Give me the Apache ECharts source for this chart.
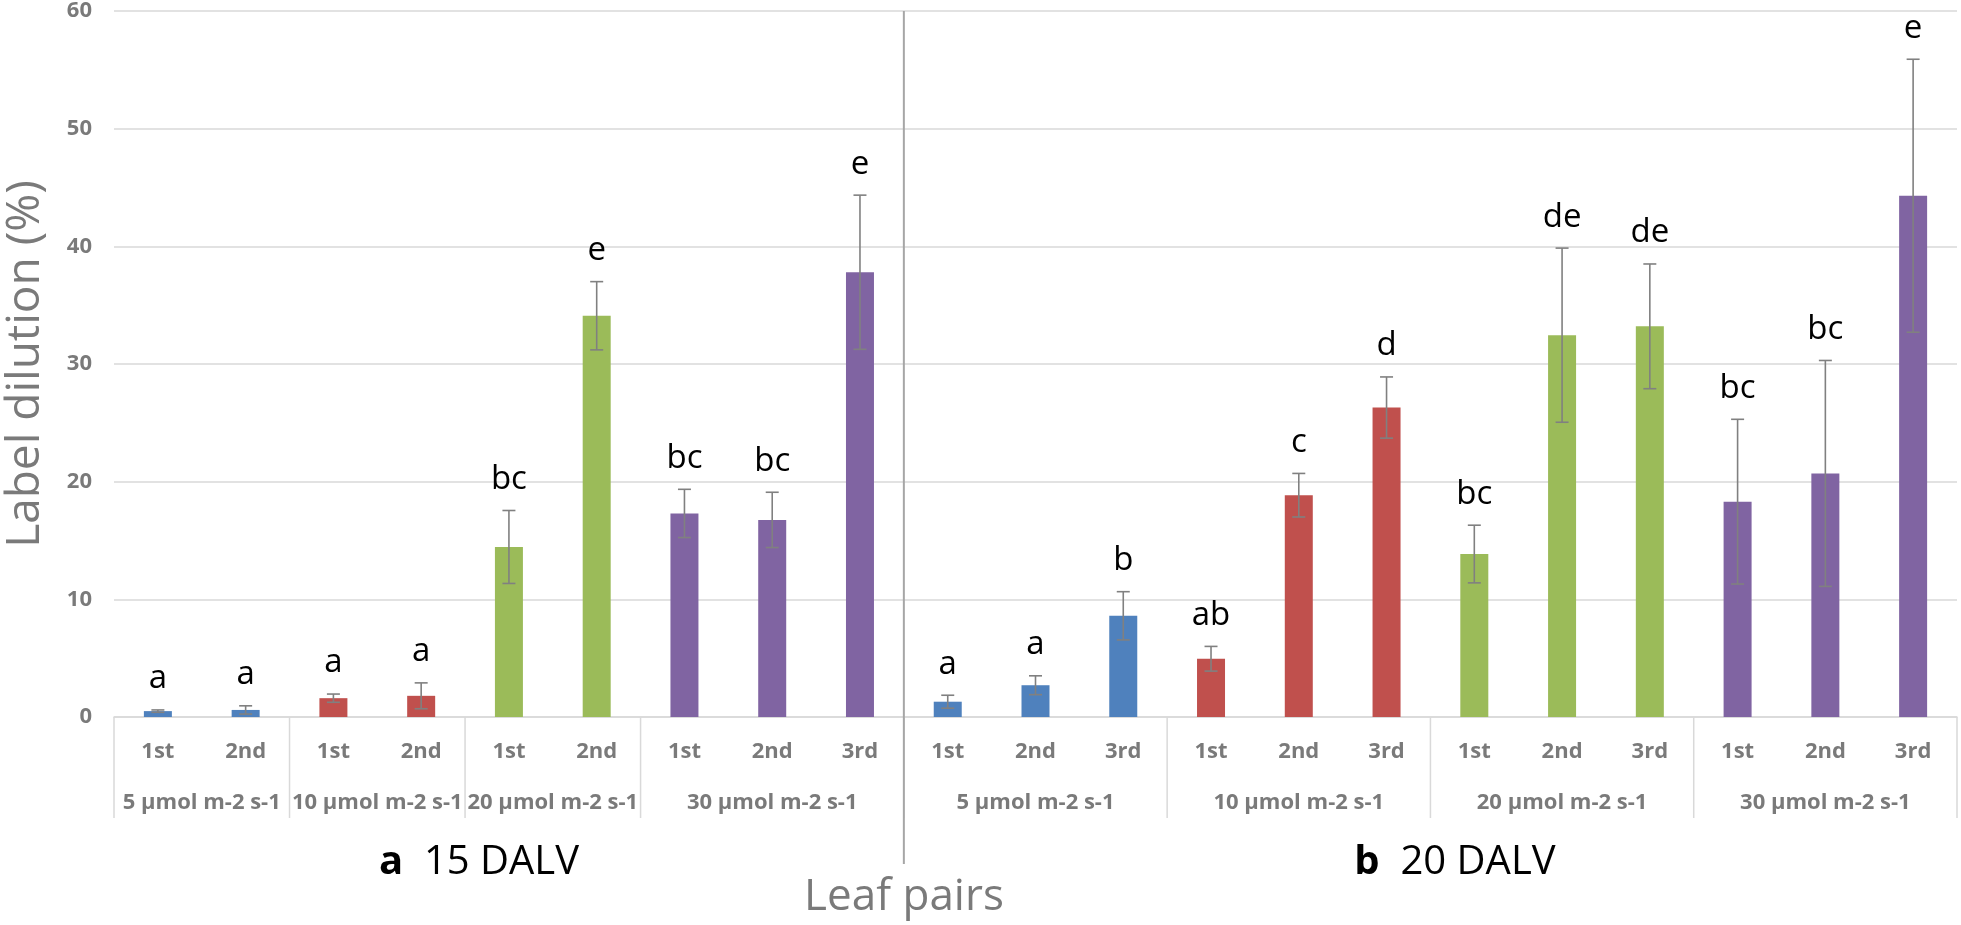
<!DOCTYPE html>
<html>
<head>
<meta charset="utf-8">
<script src="https://cdn.jsdelivr.net/npm/echarts@6/dist/echarts.min.js"></script>
<style>
html,body{margin:0;padding:0;background:#fff;}
#chart{width:1961px;height:925px;}
</style>
</head>
<body>
<div id="chart"></div>
<script>
// ---- data ----
const leafPairs = ['1st','2nd','1st','2nd','1st','2nd','1st','2nd','3rd',
                   '1st','2nd','3rd','1st','2nd','3rd','1st','2nd','3rd','1st','2nd','3rd'];
const groupNames = ['5 µmol m-2 s-1','10 µmol m-2 s-1','20 µmol m-2 s-1','30 µmol m-2 s-1',
                    '5 µmol m-2 s-1','10 µmol m-2 s-1','20 µmol m-2 s-1','30 µmol m-2 s-1'];
const groupSizes = [2,2,2,3, 3,3,3,3];
const groupLevel = [0,1,2,3, 0,1,2,3];
const means  = [0.5,0.6,1.6,1.8,14.45,34.1,17.3,16.75,37.8,
                1.3,2.7,8.6,4.95,18.85,26.3,13.85,32.45,33.2,18.3,20.7,44.3];
const errors = [0.1,0.35,0.35,1.1,3.1,2.9,2.05,2.35,6.55,
                0.55,0.8,2.05,1.05,1.85,2.6,2.45,7.4,5.3,7.0,9.6,11.6];
const letters = ['a','a','a','a','bc','e','bc','bc','e',
                 'a','a','b','ab','c','d','bc','de','de','bc','bc','e'];
const panelTags = ['a','b'];
const panelTitles = ['15 DALV','20 DALV'];
const panelGroupCount = 4;
const yMin = 0, yMax = 60, yStep = 10;
const yTitle = 'Label dilution (%)';
const xTitle = 'Leaf pairs';
const levelColors = ['#4F81BD','#C0504D','#9BBB59','#8064A2'];

// ---- derived ----
const catGroup = [];
const groupRanges = [];
let start = 0;
groupSizes.forEach((n, g) => {
  groupRanges.push([start, g, start + n - 1]);
  for (let k = 0; k < n; k++) catGroup.push(g);
  start += n;
});
const barData = means.map((v, i) => ({
  value: v,
  itemStyle: { color: levelColors[groupLevel[catGroup[i]]] }
}));
const errData = means.map((v, i) => [i, v, errors[i]]);

const FONT = '"Open Sans", "DejaVu Sans", sans-serif';
const chart = echarts.init(document.getElementById('chart'), null, { renderer: 'canvas' });

function panelTitle(k, x) {
  return { type: 'text', x: x, y: 863,
    style: { text: '{t|' + panelTags[k] + '}{n|  ' + panelTitles[k] + '}', align: 'center', verticalAlign: 'middle',
             rich: { t: { font: 'bold 40px ' + FONT, fill: '#000' }, n: { font: '40px ' + FONT, fill: '#000' } } } };
}

chart.setOption({
  animation: false,
  backgroundColor: '#ffffff',
  grid: { left: 114, right: 4, top: 11, bottom: 208, containLabel: false },
  xAxis: {
    type: 'category',
    data: leafPairs,
    axisLine: { show: true, lineStyle: { color: '#d9d9d9', width: 1.5 } },
    axisTick: { show: false },
    axisLabel: { interval: 0, margin: 24, color: '#7a7a7a', fontFamily: FONT, fontWeight: 'bold', fontSize: 22 },
    splitLine: { show: false }
  },
  yAxis: {
    type: 'value',
    min: yMin, max: yMax, interval: yStep,
    axisLine: { show: false },
    axisTick: { show: false },
    axisLabel: { margin: 22, color: '#7a7a7a', fontFamily: FONT, fontWeight: 'bold', fontSize: 22 },
    splitLine: { lineStyle: { color: '#d9d9d9', width: 1.5 } }
  },
  series: [
    {
      type: 'bar',
      data: barData,
      barWidth: 28,
      silent: true
    },
    {
      type: 'custom',
      clip: false,
      silent: true,
      data: errData,
      encode: { x: 0, y: 1 },
      z: 5,
      renderItem: function (params, api) {
        const i = api.value(0), m = api.value(1), e = api.value(2);
        const top = api.coord([i, m + e]);
        const bot = api.coord([i, Math.max(m - e, 0)]);
        const x = top[0], cap = 6.5;
        const ls = { stroke: '#808080', lineWidth: 1.6 };
        return {
          type: 'group',
          children: [
            { type: 'line', shape: { x1: x, y1: top[1], x2: x, y2: bot[1] }, style: ls },
            { type: 'line', shape: { x1: x - cap, y1: top[1], x2: x + cap, y2: top[1] }, style: ls },
            { type: 'line', shape: { x1: x - cap, y1: bot[1], x2: x + cap, y2: bot[1] }, style: ls },
            { type: 'text', x: x, y: top[1] - 31,
              style: { text: letters[params.dataIndex], align: 'center', verticalAlign: 'middle',
                       font: '33px ' + FONT, fill: '#000000' } }
          ]
        };
      }
    },
    {
      type: 'custom',
      clip: false,
      silent: true,
      data: groupRanges,
      encode: { x: 0 },
      renderItem: function (params, api) {
        const s = api.value(0), g = api.value(1), e = api.value(2);
        const bw = api.size([1, 0])[0];
        const y0 = api.coord([0, yMin])[1];
        const yTop = api.coord([0, yMax])[1];
        const x0 = api.coord([s, yMin])[0] - bw / 2;
        const x1 = api.coord([e, yMin])[0] + bw / 2;
        const ls = { stroke: '#d9d9d9', lineWidth: 1.5 };
        const ch = [
          { type: 'line', shape: { x1: x0, y1: y0, x2: x0, y2: y0 + 101 }, style: ls },
          { type: 'text', x: (x0 + x1) / 2, y: y0 + 86,
            style: { text: groupNames[g], align: 'center', verticalAlign: 'middle',
                     font: 'bold 22px ' + FONT, fill: '#7a7a7a' } }
        ];
        if (g === groupSizes.length - 1) {
          ch.push({ type: 'line', shape: { x1: x1, y1: y0, x2: x1, y2: y0 + 101 }, style: ls });
        }
        if (g === panelGroupCount - 1) {
          ch.push({ type: 'line', z2: 10, shape: { x1: x1, y1: yTop, x2: x1, y2: y0 + 147 },
                    style: { stroke: '#a6a6a6', lineWidth: 2 } });
        }
        return { type: 'group', children: ch };
      }
    }
  ],
  graphic: [
    { type: 'text', x: 26, y: 364, rotation: Math.PI / 2,
      style: { text: yTitle, align: 'center', verticalAlign: 'middle', font: '46px ' + FONT, fill: '#7a7a7a' } },
    { type: 'text', x: 904, y: 897,
      style: { text: xTitle, align: 'center', verticalAlign: 'middle', font: '44px ' + FONT, fill: '#7a7a7a' } },
    panelTitle(0, 479),
    panelTitle(1, 1455)
  ]
});
</script>
</body>
</html>
